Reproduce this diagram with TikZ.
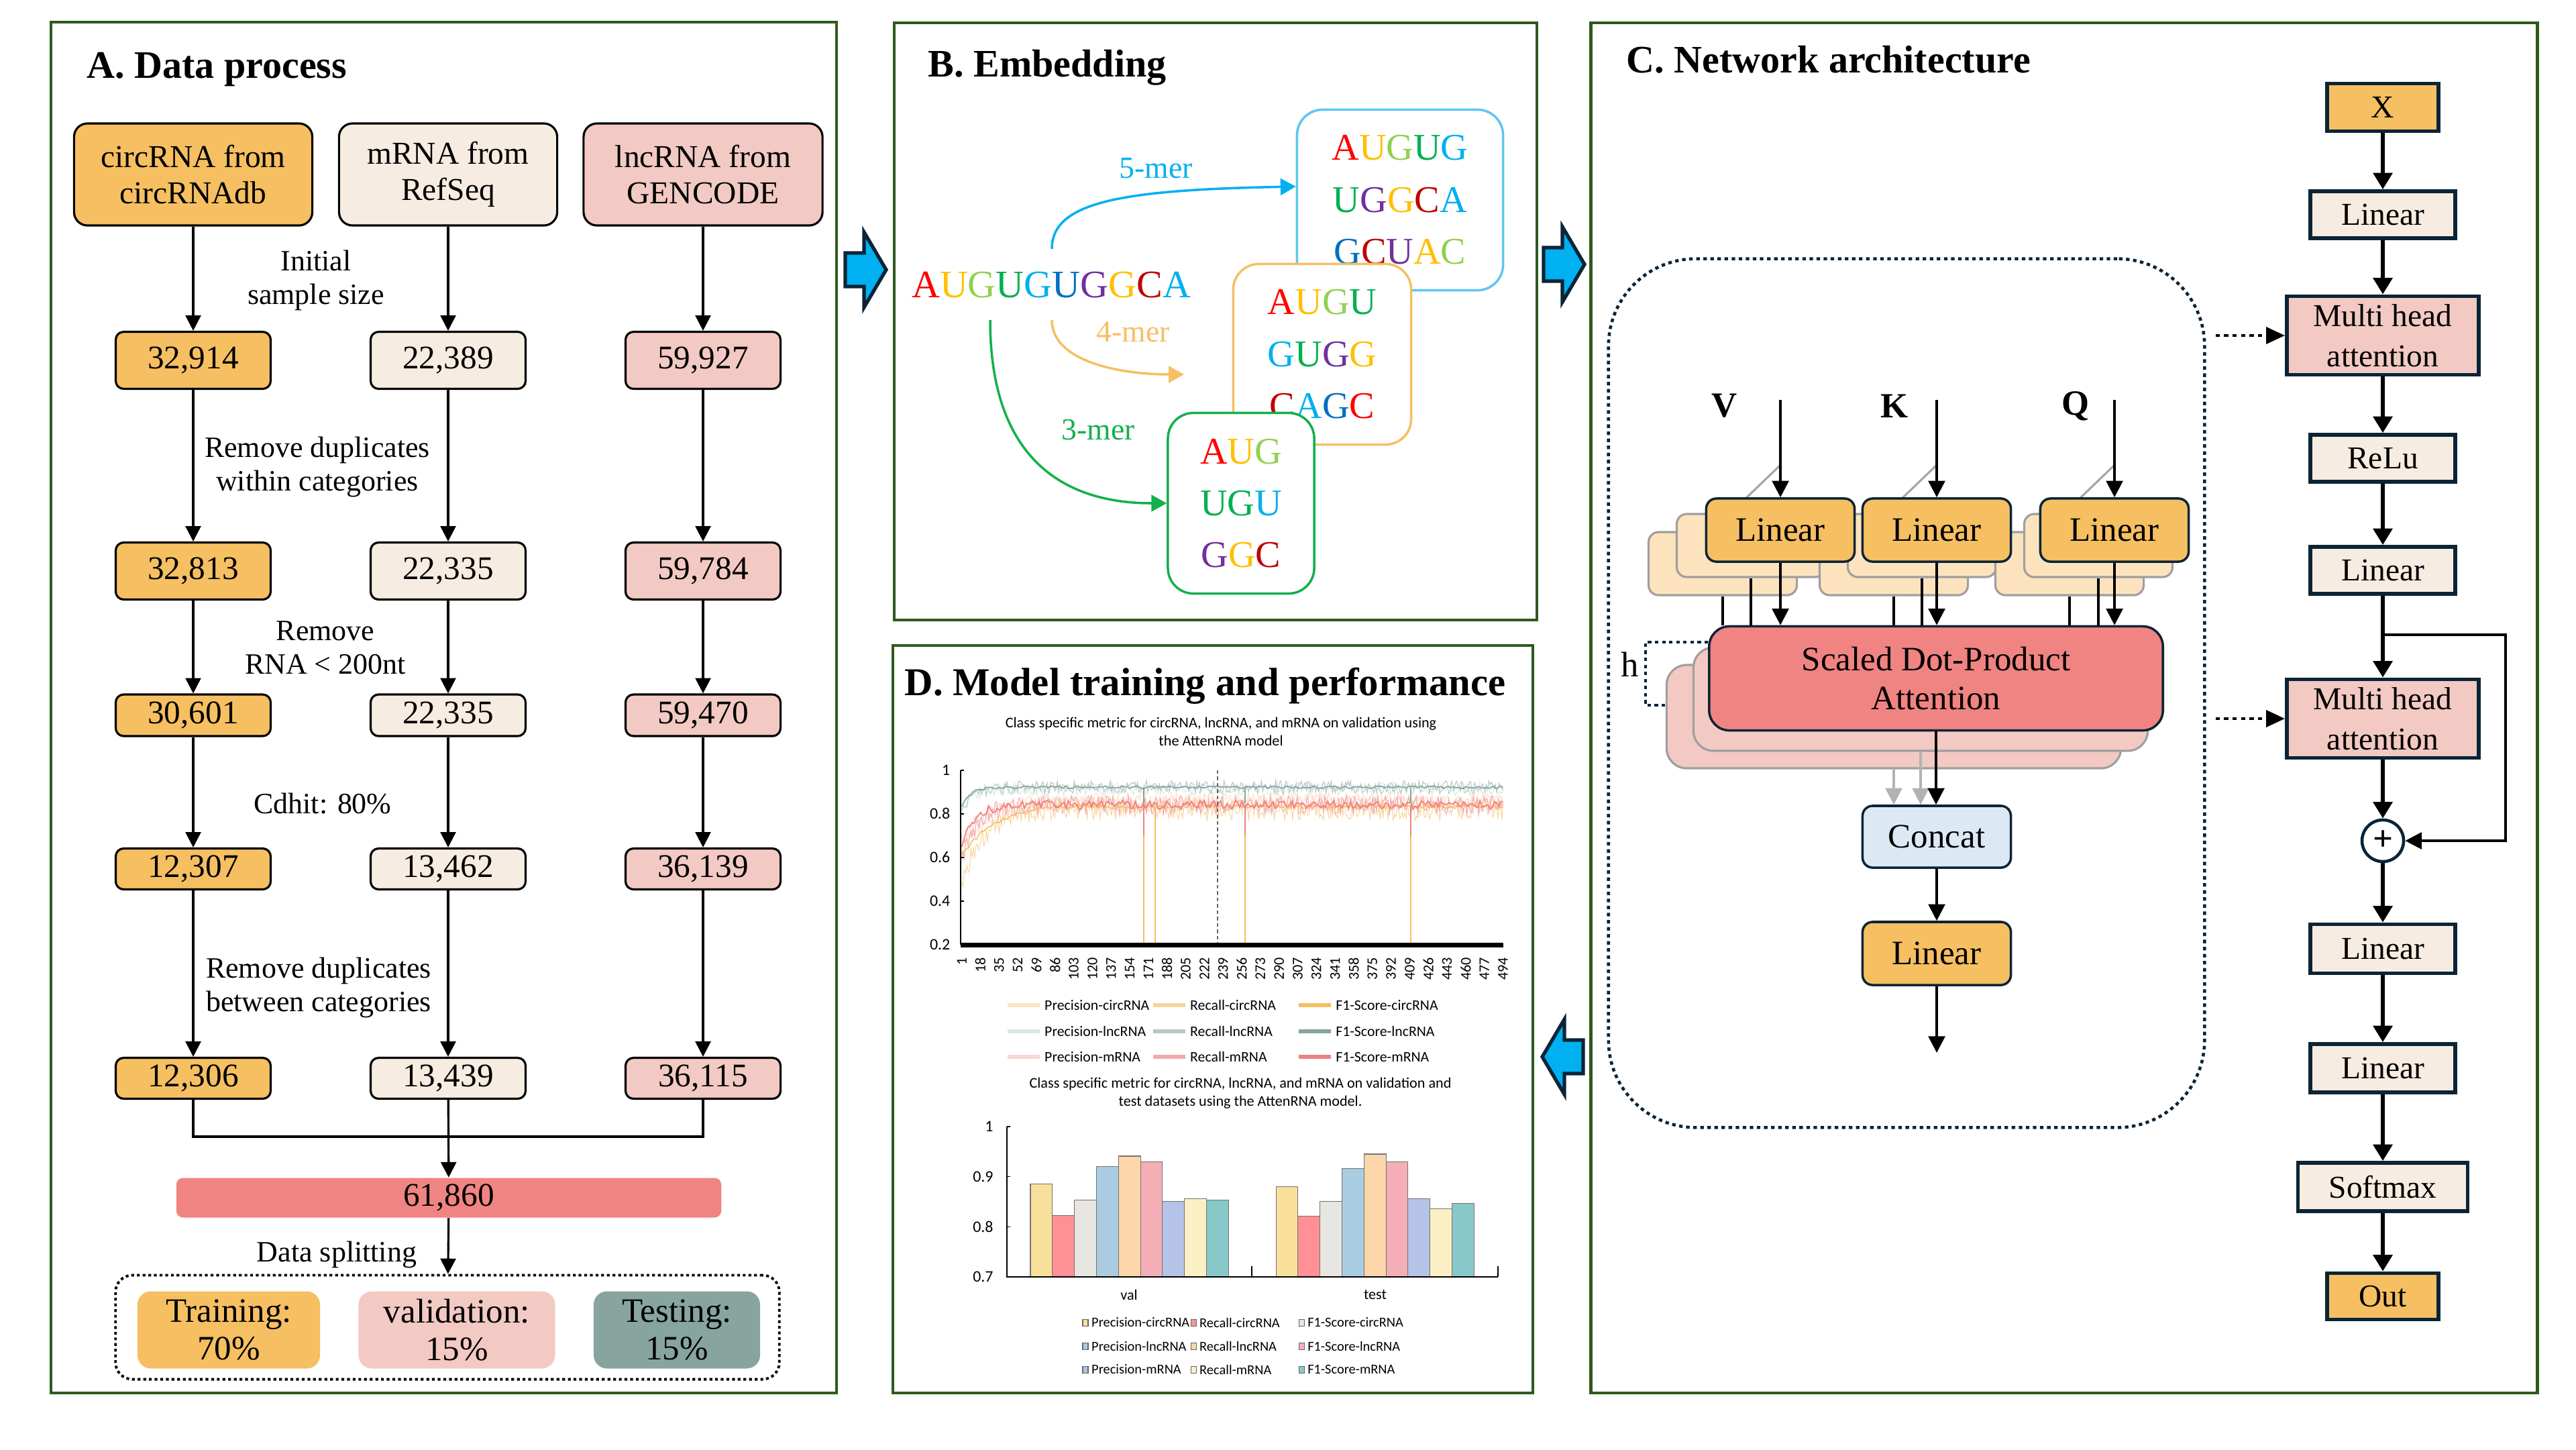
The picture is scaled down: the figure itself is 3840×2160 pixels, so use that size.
\documentclass[tikz,border=0pt]{standalone}
\usepackage{fontspec}
\setmainfont{Liberation Serif}
\newfontfamily\chartfont{Carlito}
\usetikzlibrary{arrows.meta,positioning,calc}

% panel and box colours
\definecolor{panelgreen}{HTML}{2E5A1E}
\definecolor{circorange}{HTML}{F5BF62}
\definecolor{backorange}{HTML}{FCE3BE}
\definecolor{mrnacream}{HTML}{F7ECE2}
\definecolor{lncpink}{HTML}{F2CAC3}
\definecolor{totalred}{HTML}{F08482}
\definecolor{testgreen}{HTML}{87A59E}
\definecolor{concatblue}{HTML}{DCE9F5}
\definecolor{navy}{HTML}{0B2436}
\definecolor{arrowblue}{HTML}{00B0F0}
\definecolor{kblue}{HTML}{5BC8F0}
\definecolor{korange}{HTML}{F5BF62}
\definecolor{kgreen}{HTML}{14B04C}
% nucleotide colours
\definecolor{nRed}{HTML}{FF0000}
\definecolor{nGold}{HTML}{FFC000}
\definecolor{nLime}{HTML}{92D050}
\definecolor{nGreen}{HTML}{00B050}
\definecolor{nCyan}{HTML}{00B0F0}
\definecolor{nBlue}{HTML}{0070C0}
\definecolor{nPurple}{HTML}{7030A0}
\definecolor{nDark}{HTML}{C00000}
% chart colours
\definecolor{pcirc}{HTML}{FBE3C5}
\definecolor{rcirc}{HTML}{F9D49A}
\definecolor{fcirc}{HTML}{F5BF5F}
\definecolor{plnc}{HTML}{DCE6E3}
\definecolor{rlnc}{HTML}{B4C9C4}
\definecolor{flnc}{HTML}{87A59E}
\definecolor{pmr}{HTML}{F9D6D6}
\definecolor{rmr}{HTML}{F4A9A9}
\definecolor{fmr}{HTML}{F08080}
\definecolor{barA}{HTML}{F9E09A}
\definecolor{barB}{HTML}{FF9095}
\definecolor{barC}{HTML}{E7E6E1}
\definecolor{barD}{HTML}{A9CCE0}
\definecolor{barE}{HTML}{FCD6A9}
\definecolor{barF}{HTML}{F4AFB6}
\definecolor{barG}{HTML}{B4C3E6}
\definecolor{barH}{HTML}{FBF0C4}
\definecolor{barI}{HTML}{89C8C9}

\newcommand{\nt}[2]{\textcolor{#1}{#2}}

\tikzset{
  panel/.style={draw=panelgreen, line width=1.4pt},
  paneltitle/.style={anchor=base west, inner sep=0pt, font=\bfseries\fontsize{16.5}{20}\selectfont},
  flow/.style={line width=0.9pt, -{Triangle[width=6.5pt,length=6.5pt]}},
  link/.style={line width=0.9pt},
  srcbox/.style={draw, line width=0.9pt, rounded corners=0.2cm, minimum height=1.52cm, inner sep=0pt, align=center, font=\fontsize{13.5}{15.3}\selectfont},
  numbox/.style={draw, line width=0.9pt, rounded corners=0.12cm, minimum width=2.31cm, inner sep=0pt, font=\fontsize{14}{16}\selectfont},
  steplabel/.style={align=center, font=\fontsize{12.5}{14.3}\selectfont},
  splitpart/.style={rounded corners=0.2cm, minimum height=1.15cm, inner sep=0pt, align=center, font=\fontsize{14.5}{16}\selectfont},
  kbox/.style={fill=white, line width=1pt, rounded corners=0.38cm, minimum height=2.69cm, inner sep=0pt, align=center, font=\fontsize{16}{22}\selectfont},
  kflow/.style={line width=1pt, -{Triangle[width=7pt,length=6.5pt]}},
  klabel/.style={font=\fontsize{13}{15}\selectfont},
  linfront/.style={draw=navy, fill=circorange, line width=1pt, rounded corners=0.15cm, minimum width=2.21cm, minimum height=0.94cm, font=\fontsize{14.5}{17}\selectfont},
  linback/.style={draw=gray!75, fill=backorange, line width=0.9pt, rounded corners=0.15cm, minimum width=2.21cm, minimum height=0.94cm},
  sdpfront/.style={draw=navy, fill=totalred, line width=1pt, rounded corners=0.3cm, minimum width=6.76cm, minimum height=1.55cm, align=center, font=\fontsize{14.5}{16.5}\selectfont},
  sdpback/.style={draw=gray!75, fill=lncpink, line width=0.9pt, rounded corners=0.3cm, minimum width=6.77cm, minimum height=1.54cm},
  qkv/.style={font=\bfseries\fontsize{15}{18}\selectfont},
  feed/.style={line width=1.1pt, -{Triangle[width=7pt,length=7pt]}},
  greyfeed/.style={gray!60, line width=1.1pt, -{Triangle[width=7pt,length=7pt]}},
  stackline/.style={gray!70, line width=0.9pt},
  hdots/.style={navy, line width=1.2pt, dash pattern=on 1.5pt off 1.5pt},
  archbox/.style={draw=navy, line width=1.6pt, inner sep=0pt, align=center, font=\fontsize{13.5}{17}\selectfont},
  archflow/.style={line width=1.8pt, -{Triangle[width=8pt,length=7pt]}},
  skipflow/.style={line width=1.2pt, -{Triangle[width=7pt,length=7pt]}},
  dotflow/.style={line width=1.4pt, dash pattern=on 1.8pt off 1.8pt, -{Triangle[width=7pt,length=8pt]}},
  passarrow/.style={fill=arrowblue, draw=navy, line width=1.5pt, line join=miter},
  charttext/.style={font=\chartfont\fontsize{6.3}{7.7}\selectfont},
  legtext/.style={anchor=west, inner sep=1pt, font=\chartfont\fontsize{6.2}{7}\selectfont},
  noisy/.style={line width=0.3pt},
}

\begin{document}
\begin{tikzpicture}[x=0.01cm, y=-0.01cm]
\useasboundingbox (0,0) rectangle (3840,2160);

% panels
\draw[panel] (76,33) rectangle (1247,2076);
\draw[panel] (1333,34) rectangle (2291,924);
\draw[panel] (1331,962) rectangle (2285,2076);
\draw[panel] (2371,34) rectangle (3782,2076);

% arrows between panels
\foreach \cx/\cy/\dir in {1290/402/1, 2331/394/1, 2330/1575/-1}{
  \begin{scope}[shift={(\cx,\cy)}, xscale=\dir]
  \draw[passarrow] (-30,-25) -- (-2,-25) -- (-2,-56) -- (31,0) -- (-2,56) -- (-2,25) -- (-30,25) -- cycle;
  \end{scope}
}

%%%%%%%% A. Data process
\node[paneltitle] (titleA) at (129,116) {A. Data process};
\node[srcbox, fill=circorange, minimum width=3.55cm] (circ) at (288,260) {circRNA from\\circRNAdb};
\node[srcbox, fill=mrnacream, minimum width=3.25cm] (mrna) at (668,260) {mRNA from\\RefSeq};
\node[srcbox, fill=lncpink, minimum width=3.56cm] (lnc) at (1048,260) {lncRNA from\\GENCODE};

\foreach \r/\y/\h/\a/\b/\c in {1/537/0.85/{32,914}/{22,389}/{59,927},
  2/851/0.85/{32,813}/{22,335}/{59,784}, 3/1066/0.62/{30,601}/{22,335}/{59,470},
  4/1295/0.61/{12,307}/{13,462}/{36,139}, 5/1607/0.61/{12,306}/{13,439}/{36,115}}{
  \node[numbox, fill=circorange, minimum height=\h cm] (c\r) at (288,\y) {\a};
  \node[numbox, fill=mrnacream, minimum height=\h cm] (m\r) at (668,\y) {\b};
  \node[numbox, fill=lncpink, minimum height=\h cm] (l\r) at (1048,\y) {\c};
}
\draw[flow] (circ) -- (c1);
\draw[flow] (mrna) -- (m1);
\draw[flow] (lnc) -- (l1);
\foreach \i/\j in {1/2,2/3,3/4,4/5}{
  \draw[flow] (c\i) -- (c\j);
  \draw[flow] (m\i) -- (m\j);
  \draw[flow] (l\i) -- (l\j);
}
\node[steplabel] (lab1) at (471,418) {Initial\\sample size};
\node[steplabel] (lab2) at (473,696) {Remove duplicates\\within categories};
\node[steplabel] (lab3) at (485,965) {Remove\\RNA < 200nt};
\node[steplabel] (lab4) at (481,1198) {Cdhit: 80\%};
\node[steplabel] (lab5) at (475,1472) {Remove duplicates\\between categories};

\node[fill=totalred, rounded corners=0.1cm, minimum width=8.12cm, minimum height=0.59cm, inner sep=0pt, font=\fontsize{14}{16}\selectfont] (total) at (669,1785) {61,860};
\coordinate (join) at (668,1694);
\draw[link] (c5) |- (join) -| (l5);
\draw[flow] (m5) -- (total);
\node[draw, line width=1.1pt, dash pattern=on 1.2pt off 1.2pt, rounded corners=0.25cm, minimum width=9.89cm, minimum height=1.55cm] (split) at (667,1978) {};
\draw[flow] (total) -- (split);
\node[steplabel] (lab6) at (502,1870) {Data splitting};
\node[splitpart, fill=circorange, minimum width=2.72cm] (train) at (341,1982) {Training:\\70\%};
\node[splitpart, fill=lncpink, minimum width=2.93cm] (valid) at (681,1982) {validation:\\15\%};
\node[splitpart, fill=testgreen, minimum width=2.48cm] (test) at (1009,1982) {Testing:\\15\%};

%%%%%%%% B. Embedding
\node[paneltitle] (titleB) at (1383,114) {B. Embedding};
\node[inner sep=0pt, font=\fontsize{16.5}{20}\selectfont] (seq) at (1567,425)
  {\nt{nRed}{A}\nt{nGold}{U}\nt{nLime}{G}\nt{nGreen}{U}\nt{nCyan}{G}\nt{nBlue}{U}\nt{nPurple}{G}\nt{nGold}{G}\nt{nDark}{C}\nt{nCyan}{A}};
\node[kbox, draw=kblue, minimum width=3.07cm] (k5) at (2087,298)
  {\nt{nRed}{A}\nt{nGold}{U}\nt{nLime}{G}\nt{nGreen}{U}\nt{nCyan}{G}\\
   \nt{nGreen}{U}\nt{nPurple}{G}\nt{nGold}{G}\nt{nDark}{C}\nt{nCyan}{A}\\
   \nt{nBlue}{G}\nt{nDark}{C}\nt{nPurple}{U}\nt{nGold}{A}\nt{nLime}{C}};
\node[kbox, draw=korange, minimum width=2.65cm] (k4) at (1971,528)
  {\nt{nRed}{A}\nt{nGold}{U}\nt{nLime}{G}\nt{nGreen}{U}\\
   \nt{nCyan}{G}\nt{nGreen}{U}\nt{nPurple}{G}\nt{nGold}{G}\\
   \nt{nDark}{C}\nt{nCyan}{A}\nt{nBlue}{G}\nt{nRed}{C}};
\node[kbox, draw=kgreen, minimum width=2.18cm] (k3) at (1850,750)
  {\nt{nRed}{A}\nt{nGold}{U}\nt{nLime}{G}\\
   \nt{nGreen}{U}\nt{nGreen}{G}\nt{nCyan}{U}\\
   \nt{nPurple}{G}\nt{nGold}{G}\nt{nDark}{C}};
\coordinate (e4) at (1765,558);
\draw[kflow, draw=nCyan] ($(seq.north)+(1,-34)$) .. controls +(0,-70) and +(-260,5) .. ([yshift=0.2cm]k5.west);
\draw[kflow, draw=korange] ($(seq.south)+(1,32)$) .. controls +(0,60) and +(-100,0) .. (e4);
\draw[kflow, draw=kgreen] ($(seq.south)+(-91,32)$) .. controls +(0,190) and +(-170,0) .. (k3.west);
\node[klabel, text=nCyan] (m5lab) at (1723,251) {5-mer};
\node[klabel, text=korange] (m4lab) at (1689,495) {4-mer};
\node[klabel, text=kgreen] (m3lab) at (1637,641) {3-mer};

%%%%%%%% C. Network architecture
\node[paneltitle] (titleC) at (2424,108) {C. Network architecture};
\node[draw=navy, line width=1.3pt, dash pattern=on 1.5pt off 1.5pt, rounded corners=1.3cm, minimum width=8.88cm, minimum height=12.94cm] (mhblock) at (2842,1033) {};

\node[sdpback] (sdpb2) at (2823,1068) {};
\node[sdpback] (sdpb1) at (2863,1042) {};
\node[sdpfront] (sdpa) at (2886,1011) {Scaled Dot-Product\\Attention};

\foreach \nm/\px/\ba/\bb in {V/2654/2610/2568, K/2887/2865/2823, Q/3152/3128/3085}{
  \node[linback] (\nm b2) at (\bb,840) {};
  \node[linback] (\nm b1) at (\ba,813) {};
  \draw[stackline] (\px-52,743) -- (\px,693);
}
\foreach \nm/\px/\lx in {V/2654/2571, K/2887/2824, Q/3152/3094}{
  \node[linfront] (\nm) at (\px,790) {Linear};
  \node[qkv] (\nm lab) at (\lx,605) {\nm};
  \coordinate (\nm in) at (\px,596);
  \draw[feed] (\nm in) -- (\nm);
  \draw[link] (\nm b1.south) -- (\nm b1.south |- sdpa.north);
  \draw[link] (\nm b2.south) -- (\nm b2.south |- sdpa.north);
  \draw[feed] (\nm.south) -- (\nm.south |- sdpa.north);
}
\draw[hdots] (sdpa.west |- 0,957) -- (2453,957) |- (sdpb2.west |- 0,1051);
\node[font=\fontsize{15}{18}\selectfont] (hlab) at (2430,990) {h};

\node[draw=navy, fill=concatblue, line width=1pt, rounded corners=0.15cm, minimum width=2.21cm, minimum height=0.92cm, font=\fontsize{14.5}{17}\selectfont] (concat) at (2887,1247) {Concat};
\draw[greyfeed] (sdpb2.south) -- (sdpb2.south |- concat.north);
\draw[greyfeed] (sdpb1.south) -- (sdpb1.south |- concat.north);
\draw[feed] (sdpa.south) -- (sdpa.south |- concat.north);
\node[linfront] (linout) at (2887,1421) {Linear};
\draw[feed] (concat) -- (linout);
\coordinate (blockout) at (2887,1569);
\draw[feed] (linout) -- (blockout);

% model stack on the right
\node[archbox, fill=circorange, minimum width=1.66cm, minimum height=0.71cm] (xin) at (3552,160) {X};
\node[archbox, fill=mrnacream, minimum width=2.16cm, minimum height=0.70cm] (lin1) at (3552,320) {Linear};
\node[archbox, fill=lncpink, minimum width=2.86cm, minimum height=1.17cm] (mha1) at (3552,500) {Multi head\\attention};
\node[archbox, fill=mrnacream, minimum width=2.16cm, minimum height=0.70cm] (relu) at (3552,683) {ReLu};
\node[archbox, fill=mrnacream, minimum width=2.16cm, minimum height=0.70cm] (lin2) at (3552,850) {Linear};
\node[archbox, fill=lncpink, minimum width=2.86cm, minimum height=1.17cm] (mha2) at (3552,1071) {Multi head\\attention};
\node[draw=navy, line width=1.3pt, circle, minimum size=0.62cm, inner sep=0pt, font=\bfseries\fontsize{15}{15}\selectfont] (plus) at (3552,1253) {+};
\node[archbox, fill=mrnacream, minimum width=2.16cm, minimum height=0.73cm] (lin3) at (3552,1414) {Linear};
\node[archbox, fill=mrnacream, minimum width=2.16cm, minimum height=0.72cm] (lin4) at (3552,1592) {Linear};
\node[archbox, fill=mrnacream, minimum width=2.53cm, minimum height=0.72cm] (soft) at (3552,1769) {Softmax};
\node[archbox, fill=circorange, minimum width=1.66cm, minimum height=0.69cm] (out) at (3552,1932) {Out};
\foreach \a/\b in {xin/lin1, lin1/mha1, mha1/relu, relu/lin2, lin2/mha2, mha2/plus, plus/lin3, lin3/lin4, lin4/soft, soft/out}
  \draw[archflow] (\a) -- (\b);
\coordinate (skip) at (3552,946);
\draw[skipflow] (skip) -- (3735,946) |- (plus);
\draw[dotflow, shorten <=4pt] (mhblock.east |- mha1) -- (mha1);
\draw[dotflow, shorten <=4pt] (mhblock.east |- mha2) -- (mha2);

%%%%%%%% D. Model training and performance
\node[paneltitle, font=\bfseries\fontsize{16.7}{20}\selectfont] (titleD) at (1348,1036) {D. Model training and performance};
\node[charttext, align=center] (ch1title) at (1820,1090) {Class specific metric for circRNA, lncRNA, and mRNA on validation using\\the AttenRNA model};

\begin{scope}[shift={(1432,1408)}, x=0.01635cm, y=3.25cm]
  \pgfmathsetseed{11}
  \draw[plnc, noisy] plot[domain=1:494, samples=420] (\x, {0.715-0.10*exp(-min(\x,90)/10)+0.03*rand});
  \draw[rlnc, noisy] plot[domain=1:494, samples=420] (\x, {0.722-0.12*exp(-min(\x,90)/10)+0.03*rand});
  \draw[pcirc, noisy] plot[domain=1:494, samples=420] (\x, {0.67-0.25*exp(-min(\x,90)/25)+0.035*rand});
  \draw[rcirc, noisy] plot[domain=1:494, samples=420] (\x, {0.625-0.35*exp(-min(\x,90)/20)+0.05*rand});
  \draw[pmr, noisy] plot[domain=1:494, samples=420] (\x, {0.645-0.18*exp(-min(\x,90)/20)+0.04*rand});
  \draw[rmr, noisy] plot[domain=1:494, samples=420] (\x, {0.64-0.25*exp(-min(\x,90)/15)+0.045*rand});
  \draw[fcirc, line width=0.45pt] plot[domain=1:494, samples=220] (\x, {0.645-0.25*exp(-min(\x,90)/30)+0.008*rand});
  \draw[flnc, line width=0.5pt] plot[domain=1:494, samples=220] (\x, {0.722-0.10*exp(-min(\x,90)/8)+0.006*rand});
  \draw[fmr, line width=0.5pt] plot[domain=1:494, samples=260] (\x, {0.642-0.2*exp(-min(\x,90)/12)+0.02*rand});
  % collapses of the circRNA curves
  \foreach \e in {167,177,259,410}
    \draw[fcirc, line width=0.6pt] (\e,0.64) -- (\e,0);
  \foreach \e in {167,259,410}{
    \draw[fmr, line width=0.5pt] (\e,0.64) -- (\e,0.5);
    \draw[flnc, line width=0.5pt] (\e,0.72) -- (\e,0.65);
  }
  \draw[gray!80!black, line width=0.6pt, dash pattern=on 1.5pt off 1.2pt] (234,0.8) -- (234,0);
  % axes
  \draw[line width=0.5pt] (0,0.8) -- (0,0);
  \draw[line width=2pt] (0,0) -- (494,0);
  \foreach \v/\t in {0/0.2,0.2/0.4,0.4/0.6,0.6/0.8,0.8/1}{
    \draw[line width=0.4pt] (0,\v) -- (3,\v);
    \node[charttext, anchor=east, font=\chartfont\fontsize{6.8}{8}\selectfont] (yt\t) at (-2,\v) {\t};
  }
  \foreach \e in {1,18,...,494}
    \node[charttext, rotate=90, anchor=east, inner sep=1pt] (xt\e) at (\e,-0.045) {\e};
\end{scope}

% legend of the line chart
\foreach \lab/\col/\cx/\ry [count=\k] in {Precision-circRNA/pcirc/1502/1498, Recall-circRNA/rcirc/1719/1498, F1-Score-circRNA/fcirc/1936/1498,
  Precision-lncRNA/plnc/1502/1537, Recall-lncRNA/rlnc/1719/1537, F1-Score-lncRNA/flnc/1936/1537,
  Precision-mRNA/pmr/1502/1575, Recall-mRNA/rmr/1719/1575, F1-Score-mRNA/fmr/1936/1575}{
  \draw[\col, line width=1.6pt] (\cx,\ry) -- (\cx+48,\ry);
  \node[legtext] (lg\k) at (\cx+51,\ry) {\lab};
}

\node[charttext, align=center] (ch2title) at (1849,1629) {Class specific metric for circRNA, lncRNA, and mRNA on validation and\\test datasets using the AttenRNA model.};

\begin{scope}[shift={(1501,1903)}, x=0.01cm, y=7.467cm]
  \foreach \col/\v/\w [count=\i] in {barA/0.886/0.880, barB/0.823/0.821, barC/0.853/0.850,
    barD/0.920/0.916, barE/0.941/0.945, barF/0.930/0.930, barG/0.851/0.856, barH/0.856/0.836, barI/0.853/0.846}{
    \draw[fill=\col, draw=black!55, line width=0.3pt] ({35+32.8*(\i-1)},0) rectangle ++(32.8,{\v-0.7});
    \draw[fill=\col, draw=black!55, line width=0.3pt] ({401+32.8*(\i-1)},0) rectangle ++(32.8,{\w-0.7});
  }
  \draw[line width=0.6pt] (0,0.3) -- (0,0) -- (732,0);
  \draw[line width=0.6pt] (365,0) -- (365,0.022);
  \draw[line width=0.6pt] (732,0) -- (732,0.022);
  \foreach \v/\t in {0/0.7,0.1/0.8,0.2/0.9,0.3/1}{
    \draw[line width=0.4pt] (0,\v) -- (5,\v);
    \node[charttext, anchor=east, font=\chartfont\fontsize{6.8}{8}\selectfont] (bt\t) at (-8,\v) {\t};
  }
  \node[charttext] (valx) at (182,-0.036) {val};
  \node[charttext] (testx) at (549,-0.036) {test};
\end{scope}

% legend of the bar chart
\foreach \lab/\col/\cx/\ry [count=\k] in {Precision-circRNA/barA/1618/1971, Recall-circRNA/barB/1779/1971, F1-Score-circRNA/barC/1940/1971,
  Precision-lncRNA/barD/1618/2006, Recall-lncRNA/barE/1779/2006, F1-Score-lncRNA/barF/1940/2006,
  Precision-mRNA/barG/1618/2041, Recall-mRNA/barH/1779/2041, F1-Score-mRNA/barI/1940/2041}{
  \draw[fill=\col, draw=black!60, line width=0.3pt] (\cx-4,\ry-5) rectangle (\cx+4,\ry+5);
  \node[legtext, font=\chartfont\fontsize{5.8}{7}\selectfont] (bl\k) at (\cx+5,\ry) {\lab};
}
\end{tikzpicture}
\end{document}
